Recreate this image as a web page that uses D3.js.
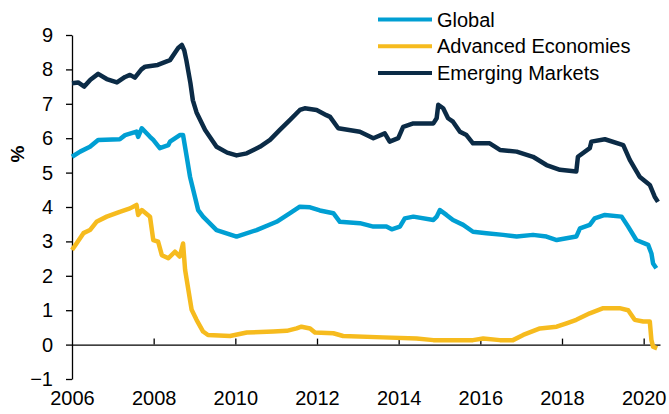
<!DOCTYPE html>
<html>
<head>
<meta charset="utf-8">
<script src="https://cdn.jsdelivr.net/npm/d3@7"></script>
<style>
    body { margin: 0; background: #fff; }
    svg { display: block; font-family: 'Liberation Sans', Arial, sans-serif; }
</style>
</head>
<body>
<div id="chart"></div>
<script>
// values (year, %)
const globalYears = [2006.00, 2006.20, 2006.44, 2006.64, 2007.17, 2007.30, 2007.58, 2007.62, 2007.71, 2007.91,
    2007.99, 2008.15, 2008.36, 2008.40, 2008.64, 2008.72, 2008.81, 2008.89, 2009.01, 2009.09, 2009.21, 2009.54,
    2010.03, 2010.52, 2011.01, 2011.34, 2011.58, 2011.83, 2012.07, 2012.40, 2012.56, 2013.05, 2013.38, 2013.70,
    2013.83, 2014.03, 2014.15, 2014.36, 2014.85, 2014.93, 2015.01, 2015.17, 2015.33, 2015.58, 2015.82, 2016.15,
    2016.56, 2016.89, 2017.29, 2017.62, 2017.87, 2018.35, 2018.44, 2018.68, 2018.80, 2019.05, 2019.46, 2019.62,
    2019.82, 2020.11, 2020.19, 2020.23, 2020.31];
const globalValues = [5.46, 5.61, 5.75, 5.95, 5.97, 6.09, 6.19, 6.04, 6.29, 6.04,
    5.95, 5.71, 5.80, 5.90, 6.09, 6.09, 5.46, 4.88, 4.30, 3.91, 3.72, 3.33,
    3.14, 3.33, 3.57, 3.82, 4.01, 3.99, 3.90, 3.82, 3.57, 3.53, 3.43, 3.43,
    3.35, 3.43, 3.67, 3.72, 3.62, 3.72, 3.91, 3.77, 3.62, 3.48, 3.28, 3.24,
    3.19, 3.14, 3.19, 3.14, 3.04, 3.14, 3.38, 3.48, 3.67, 3.77, 3.72, 3.43,
    3.04, 2.90, 2.65, 2.36, 2.22];

const advancedYears = [2006.00, 2006.11, 2006.28, 2006.44, 2006.60, 2006.85, 2007.17, 2007.42, 2007.58, 2007.62,
    2007.71, 2007.91, 2007.99, 2008.11, 2008.20, 2008.36, 2008.52, 2008.64, 2008.72, 2008.77, 2008.85, 2008.93,
    2009.05, 2009.21, 2009.33, 2009.87, 2010.28, 2010.93, 2011.26, 2011.50, 2011.62, 2011.83, 2011.95, 2012.40,
    2012.64, 2013.62, 2014.44, 2014.85, 2015.82, 2016.07, 2016.48, 2016.80, 2017.05, 2017.46, 2017.87, 2018.11,
    2018.35, 2018.68, 2019.01, 2019.41, 2019.62, 2019.78, 2019.99, 2020.15, 2020.19, 2020.23, 2020.33];
const advancedValues = [2.75, 2.94, 3.24, 3.33, 3.57, 3.72, 3.86, 3.96, 4.06, 3.77,
    3.91, 3.72, 3.04, 2.99, 2.60, 2.51, 2.70, 2.56, 2.94, 2.17, 1.59, 1.01,
    0.72, 0.38, 0.28, 0.25, 0.35, 0.38, 0.40, 0.47, 0.52, 0.47, 0.35, 0.33,
    0.25, 0.21, 0.18, 0.13, 0.13, 0.18, 0.13, 0.13, 0.28, 0.47, 0.52, 0.62,
    0.72, 0.91, 1.06, 1.06, 1.00, 0.72, 0.67, 0.67, 0.13, -0.06, -0.11];

const emergingYears = [2006.00, 2006.15, 2006.30, 2006.45, 2006.64, 2006.85, 2007.10, 2007.30, 2007.42, 2007.54,
    2007.70, 2007.79, 2008.10, 2008.40, 2008.60, 2008.69, 2008.75, 2008.80, 2008.90, 2008.96, 2009.05, 2009.26,
    2009.54, 2009.80, 2010.03, 2010.28, 2010.60, 2010.85, 2011.09, 2011.34, 2011.58, 2011.70, 2011.99, 2012.23,
    2012.32, 2012.52, 2013.05, 2013.38, 2013.66, 2013.78, 2013.99, 2014.11, 2014.36, 2014.85, 2014.93, 2014.97,
    2015.09, 2015.21, 2015.33, 2015.50, 2015.66, 2015.82, 2016.23, 2016.48, 2016.89, 2017.29, 2017.62, 2017.95,
    2018.35, 2018.39, 2018.68, 2018.72, 2019.05, 2019.50, 2019.66, 2019.90, 2020.15, 2020.27, 2020.35];
const emergingValues = [7.60, 7.62, 7.50, 7.70, 7.87, 7.72, 7.62, 7.78, 7.84, 7.76,
    8.00, 8.08, 8.13, 8.27, 8.62, 8.71, 8.55, 8.27, 7.60, 7.10, 6.75, 6.24,
    5.75, 5.58, 5.50, 5.56, 5.75, 5.95, 6.24, 6.53, 6.82, 6.87, 6.82, 6.67,
    6.62, 6.29, 6.19, 6.00, 6.14, 5.90, 6.00, 6.33, 6.43, 6.43, 6.58, 6.97,
    6.87, 6.58, 6.48, 6.19, 6.09, 5.85, 5.85, 5.66, 5.61, 5.46, 5.22, 5.08,
    5.03, 5.46, 5.71, 5.90, 5.97, 5.80, 5.37, 4.88, 4.64, 4.30, 4.15];

const seriesNames = ['Global', 'Advanced Economies', 'Emerging Markets'];
const seriesColors = ['#009fd3', '#f6bb1e', '#0b2b46'];
const xTickYears = [2006, 2008, 2010, 2012, 2014, 2016, 2018, 2020];
const yTicks = [-1, 0, 1, 2, 3, 4, 5, 6, 7, 8, 9];

function toPoints(years, values) {
    return years.map((y, i) => ({ year: y, value: values[i] }));
}

const series = [
    toPoints(globalYears, globalValues),
    toPoints(advancedYears, advancedValues),
    toPoints(emergingYears, emergingValues)
];

const width = 669, height = 414;
const margin = { top: 35, right: 9, bottom: 35, left: 72 };
const tickFont = '20px';

const svg = d3.select('#chart').append('svg')
    .attr('width', width)
    .attr('height', height);

const x = d3.scaleLinear()
    .domain([2006, 2020.4])
    .range([margin.left, width - margin.right]);
const y = d3.scaleLinear()
    .domain([-1, 9])
    .range([height - margin.bottom, margin.top]);

// y axis
const yAxis = svg.append('g')
    .attr('transform', 'translate(' + margin.left + ',0)')
    .call(d3.axisLeft(y).tickValues(yTicks).tickSize(6).tickPadding(13).tickSizeOuter(0));
yAxis.selectAll('text')
    .attr('font-size', tickFont)
    .attr('fill', '#000')
    .attr('font-family', "'Liberation Sans', Arial, sans-serif");
yAxis.selectAll('line, path').attr('stroke', '#000').attr('stroke-width', 1.3);

// x axis on the zero line, ticks pointing up
const xAxis = svg.append('g')
    .attr('transform', 'translate(0,' + y(0) + ')')
    .call(d3.axisBottom(x).tickValues(xTickYears.slice(1)).tickSize(-6).tickSizeOuter(0).tickFormat(''));
xAxis.selectAll('line, path').attr('stroke', '#000').attr('stroke-width', 1.3);

// year labels along the bottom
const xLabels = svg.append('g')
    .attr('transform', 'translate(0,' + y(-1) + ')')
    .call(d3.axisBottom(x).tickValues(xTickYears).tickSize(0).tickPadding(12).tickFormat(d3.format('d')));
xLabels.select('.domain').remove();
xLabels.selectAll('text')
    .attr('font-size', tickFont)
    .attr('fill', '#000')
    .attr('font-family', "'Liberation Sans', Arial, sans-serif");

svg.append('text')
    .attr('transform', 'translate(24,154) rotate(-90)')
    .attr('text-anchor', 'middle')
    .attr('font-size', '19px')
    .attr('font-weight', 'bold')
    .text('%');

const line = d3.line()
    .x(d => x(d.year))
    .y(d => y(d.value));

svg.append('g')
    .selectAll('path')
    .data(series)
    .join('path')
    .attr('d', line)
    .attr('fill', 'none')
    .attr('stroke', (d, i) => seriesColors[i])
    .attr('stroke-width', 4.5)
    .attr('stroke-linejoin', 'round');

// legend
const legend = svg.append('g')
    .selectAll('g')
    .data(seriesNames)
    .join('g')
    .attr('transform', (d, i) => 'translate(378,' + (19.5 + i * 26.7) + ')');
legend.append('line')
    .attr('x1', 0)
    .attr('x2', 54)
    .attr('stroke', (d, i) => seriesColors[i])
    .attr('stroke-width', 4);
legend.append('text')
    .attr('x', 59)
    .attr('y', 7)
    .attr('font-size', '20px')
    .attr('fill', '#000')
    .text(d => d);
</script>
</body>
</html>
